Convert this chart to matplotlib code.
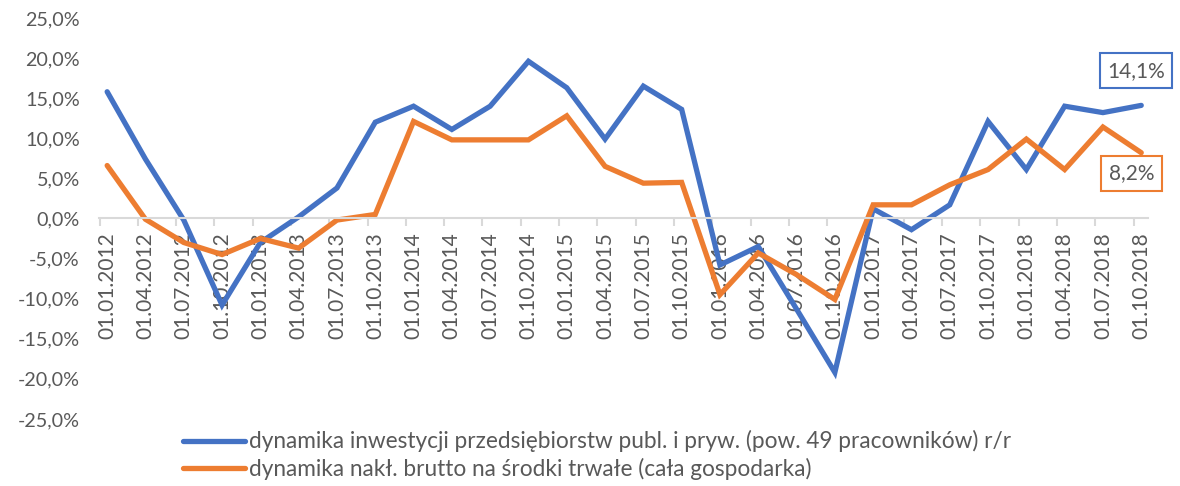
import numpy as np
import matplotlib
matplotlib.use('Agg')
import matplotlib.pyplot as plt
from matplotlib.ticker import FuncFormatter, FixedLocator

plt.rcParams['font.family'] = ['Lato', 'DejaVu Sans']

# dane
daty = ['01.01.2012', '01.04.2012', '01.07.2012', '01.10.2012',
        '01.01.2013', '01.04.2013', '01.07.2013', '01.10.2013',
        '01.01.2014', '01.04.2014', '01.07.2014', '01.10.2014',
        '01.01.2015', '01.04.2015', '01.07.2015', '01.10.2015',
        '01.01.2016', '01.04.2016', '01.07.2016', '01.10.2016',
        '01.01.2017', '01.04.2017', '01.07.2017', '01.10.2017',
        '01.01.2018', '01.04.2018', '01.07.2018', '01.10.2018']

inwestycje = [15.8, 7.4, -0.2, -10.8, -3.0, 0.2, 3.8, 12.0,
              14.0, 11.1, 14.0, 19.6, 16.3, 9.9, 16.5, 13.6,
              -5.8, -3.5, -11.3, -19.2, 1.2, -1.4, 1.7, 12.1,
              6.1, 14.0, 13.2, 14.1]

naklady = [6.6, -0.1, -3.0, -4.5, -2.5, -3.7, -0.2, 0.5,
           12.1, 9.8, 9.8, 9.8, 12.8, 6.5, 4.4, 4.5,
           -9.5, -4.3, -7.0, -10.1, 1.7, 1.7, 4.2, 6.1,
           9.9, 6.1, 11.4, 8.2]

nazwy = ['dynamika inwestycji przedsiębiorstw publ. i pryw. (pow. 49 pracowników) r/r',
         'dynamika nakł. brutto na środki trwałe (cała gospodarka)']

niebieski = '#4472C4'
pomaranczowy = '#ED7D31'
szary = '#595959'

fig = plt.figure(figsize=(11.8, 4.86), dpi=100)
ax = fig.add_axes([0.084, 0.138, 0.889, 0.825])

x = np.arange(len(daty))
ax.plot(x, inwestycje, color=niebieski, lw=3.8, label=nazwy[0], solid_capstyle='round', solid_joinstyle='miter')
ax.plot(x, naklady, color=pomaranczowy, lw=3.8, label=nazwy[1], solid_capstyle='round', solid_joinstyle='miter')

ax.set_xlim(-0.21, 27.18)
ax.set_ylim(-25, 25)
ax.set_yticks(np.arange(-25, 26, 5))
ax.yaxis.set_major_formatter(FuncFormatter(lambda v, p: f'{v:.1f}%'.replace('.', ',')))
ax.tick_params(axis='y', length=0, pad=14, labelsize=14.2, labelcolor=szary)

# os kategorii na poziomie 0
for s in ['top', 'right', 'left']:
    ax.spines[s].set_visible(False)
ax.spines['bottom'].set_position(('data', 0))
ax.spines['bottom'].set_color('#D9D9D9')
ax.spines['bottom'].set_linewidth(1.5)
ax.set_xticks(x)
ax.set_xticklabels(daty, rotation=90, fontsize=15, color=szary)
ax.tick_params(axis='x', which='major', length=0, pad=10)
ax.xaxis.set_minor_locator(FixedLocator(x - 0.2))
ax.tick_params(axis='x', which='minor', length=6, width=1.5, color='#D9D9D9')

# etykiety ostatnich wartosci
ax.annotate(f'{inwestycje[-1]:.1f}%'.replace('.', ','), xy=(x[-1], inwestycje[-1]),
            xytext=(-4, 25), textcoords='offset points', ha='center', va='center',
            fontsize=15, color=szary,
            bbox=dict(boxstyle='square,pad=0.35', fc='white', ec=niebieski, lw=1.5))
ax.annotate(f'{naklady[-1]:.1f}%'.replace('.', ','), xy=(x[-1], naklady[-1]),
            xytext=(-7, -15), textcoords='offset points', ha='center', va='center',
            fontsize=15, color=szary,
            bbox=dict(boxstyle='square,pad=0.35', fc='white', ec=pomaranczowy, lw=1.5))

fig.legend(loc='lower left', bbox_to_anchor=(0.138, -0.03), frameon=False, fontsize=16.3,
           handlelength=2.75, handletextpad=0.15, labelspacing=0.25, labelcolor=szary)

plt.savefig('out.png', dpi=100)
